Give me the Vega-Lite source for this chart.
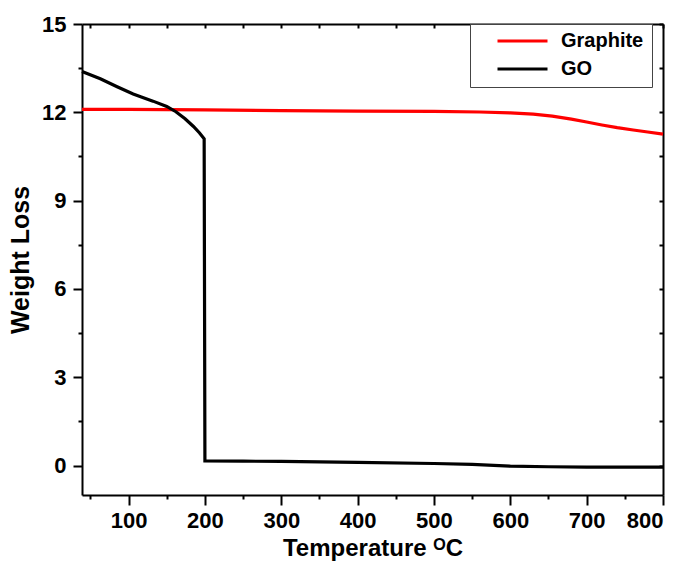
{
  "$schema": "https://vega.github.io/schema/vega-lite/v6.json",
  "width": 581,
  "height": 471,
  "autosize": {"type": "none"},
  "padding": {"left": 82, "top": 24, "right": 18, "bottom": 70},
  "background": "white",
  "config": {
    "view": {"stroke": null},
    "font": "Liberation Sans",
    "axis": {
      "domainColor": "black",
      "domainWidth": 2,
      "tickColor": "black",
      "tickWidth": 2,
      "grid": false,
      "labelFont": "Liberation Sans",
      "labelFontWeight": "bold",
      "labelFontSize": 22,
      "labelColor": "black",
      "titleFont": "Liberation Sans",
      "titleFontWeight": "bold",
      "titleFontSize": 24,
      "titleColor": "black"
    }
  },
  "data": {
    "values": [
      {"series": "Graphite", "temp": 39, "w": 12.1},
      {"series": "Graphite", "temp": 100, "w": 12.1},
      {"series": "Graphite", "temp": 200, "w": 12.08},
      {"series": "Graphite", "temp": 300, "w": 12.06},
      {"series": "Graphite", "temp": 400, "w": 12.04},
      {"series": "Graphite", "temp": 500, "w": 12.03},
      {"series": "Graphite", "temp": 560, "w": 12.01},
      {"series": "Graphite", "temp": 600, "w": 11.98},
      {"series": "Graphite", "temp": 630, "w": 11.94},
      {"series": "Graphite", "temp": 655, "w": 11.87},
      {"series": "Graphite", "temp": 680, "w": 11.77},
      {"series": "Graphite", "temp": 700, "w": 11.67},
      {"series": "Graphite", "temp": 720, "w": 11.57},
      {"series": "Graphite", "temp": 740, "w": 11.48},
      {"series": "Graphite", "temp": 761, "w": 11.4},
      {"series": "Graphite", "temp": 780, "w": 11.33},
      {"series": "Graphite", "temp": 800, "w": 11.26},
      {"series": "GO", "temp": 39, "w": 13.39},
      {"series": "GO", "temp": 63, "w": 13.14},
      {"series": "GO", "temp": 85, "w": 12.87},
      {"series": "GO", "temp": 106, "w": 12.62},
      {"series": "GO", "temp": 132, "w": 12.38},
      {"series": "GO", "temp": 150, "w": 12.2},
      {"series": "GO", "temp": 162, "w": 12.02},
      {"series": "GO", "temp": 174, "w": 11.78},
      {"series": "GO", "temp": 185, "w": 11.52},
      {"series": "GO", "temp": 193, "w": 11.3},
      {"series": "GO", "temp": 199, "w": 11.1},
      {"series": "GO", "temp": 200, "w": 0.16},
      {"series": "GO", "temp": 250, "w": 0.15},
      {"series": "GO", "temp": 300, "w": 0.14},
      {"series": "GO", "temp": 400, "w": 0.11},
      {"series": "GO", "temp": 500, "w": 0.07},
      {"series": "GO", "temp": 550, "w": 0.04},
      {"series": "GO", "temp": 600, "w": -0.02},
      {"series": "GO", "temp": 650, "w": -0.04},
      {"series": "GO", "temp": 700, "w": -0.05},
      {"series": "GO", "temp": 800, "w": -0.05}
    ]
  },
  "layer": [
    {
      "mark": {"type": "line", "strokeWidth": 3.2},
      "encoding": {
        "x": {
          "field": "temp", "type": "quantitative",
          "scale": {"domain": [39, 800], "nice": false, "zero": false},
          "axis": {"orient": "bottom", "values": [100, 200, 300, 400, 500, 600, 700, 800], "tickSize": 10, "labelPadding": 5, "title": "Temperature ᴼC", "titlePadding": 5}
        },
        "y": {
          "field": "w", "type": "quantitative",
          "scale": {"domain": [-1, 15], "nice": false, "zero": false},
          "axis": {"orient": "left", "values": [0, 3, 6, 9, 12, 15], "tickSize": 9, "labelPadding": 7, "title": "Weight Loss", "titlePadding": 8, "titleFontSize": 25}
        },
        "color": {
          "field": "series", "type": "nominal",
          "scale": {"domain": ["Graphite", "GO"], "range": ["#ff0000", "#000000"]},
          "legend": {
            "orient": "none", "legendX": 388, "legendY": 0,
            "title": null, "direction": "vertical",
            "symbolType": "stroke", "symbolSize": 2500, "symbolStrokeWidth": 3,
            "symbolOffset": 18, "clipHeight": 18, "rowPadding": 8,
            "labelFont": "Liberation Sans", "labelFontWeight": "bold", "labelFontSize": 20, "labelColor": "black", "labelOffset": 12,
            "strokeColor": "#444444", "fillColor": "white", "padding": 8
          }
        },
        "order": {"field": "temp", "type": "quantitative"}
      }
    },
    {
      "mark": {"type": "line", "opacity": 0},
      "encoding": {
        "x": {"field": "temp", "type": "quantitative", "axis": {"orient": "bottom", "values": [50, 150, 250, 350, 450, 550, 650, 750], "tickSize": 4, "labels": false, "domain": false, "title": null}},
        "y": {"field": "w", "type": "quantitative", "axis": {"orient": "left", "values": [1.5, 4.5, 7.5, 10.5, 13.5], "tickSize": 4, "labels": false, "domain": false, "title": null}}
      }
    },
    {
      "mark": {"type": "line", "opacity": 0},
      "encoding": {
        "x": {"field": "temp", "type": "quantitative", "axis": {"orient": "top", "values": [50, 100, 150, 200, 250, 300, 350, 400, 450, 500, 550, 600, 650, 700, 750, 800], "tickSize": -4, "labels": false, "title": null}},
        "y": {"field": "w", "type": "quantitative", "axis": {"orient": "right", "values": [0, 1.5, 3, 4.5, 6, 7.5, 9, 10.5, 12, 13.5, 15], "tickSize": -4, "labels": false, "title": null}}
      }
    }
  ],
  "resolve": {"axis": {"x": "independent", "y": "independent"}}
}
